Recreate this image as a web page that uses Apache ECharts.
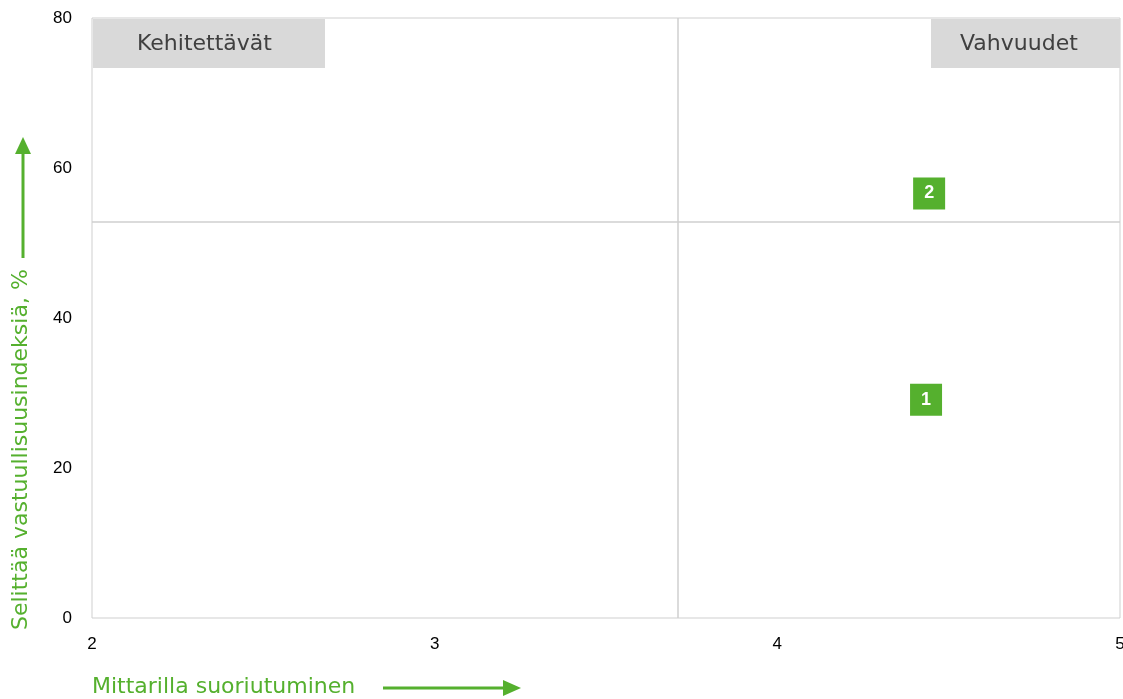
<!DOCTYPE html>
<html>
<head>
<meta charset="utf-8">
<script src="https://cdn.jsdelivr.net/npm/echarts@6/dist/echarts.min.js"></script>
<style>
  html, body { margin: 0; padding: 0; background: #fff; }
  #chart { width: 1123px; height: 699px; }
</style>
</head>
<body>
<div id="chart"></div>
<script>
// arvot luettu kuvasta
const pointLabels = ['1', '2'];
const xValues = [4.434, 4.443];
const yValues = [29.1, 56.6];
const xDivider = 3.712;
const yDivider = 52.9;
const xTicks = [2, 3, 4, 5];
const yTicks = [0, 20, 40, 60, 80];
const quadrantNames = ['Kehitettävät', 'Vahvuudet'];

const green = '#55b02e';
const titleFont = 'DejaVu Sans';

const chart = echarts.init(document.getElementById('chart'));

const option = {
    animation: false,
    grid: {
        left: 92, right: 3, top: 18, bottom: 81,
        outerBoundsMode: 'none',
        containLabel: false,
        show: true,
        borderColor: '#cfcfcf',
        borderWidth: 1
    },
    xAxis: {
        type: 'value',
        min: xTicks[0],
        max: xTicks[xTicks.length - 1],
        interval: 1,
        axisLine: { show: false },
        axisTick: { show: false },
        splitLine: { show: false },
        axisLabel: {
            color: '#000',
            fontSize: 17,
            fontFamily: 'Liberation Sans',
            margin: 18
        }
    },
    yAxis: {
        type: 'value',
        min: yTicks[0],
        max: yTicks[yTicks.length - 1],
        interval: 20,
        axisLine: { show: false },
        axisTick: { show: false },
        splitLine: { show: false },
        axisLabel: {
            color: '#000',
            fontSize: 17,
            fontFamily: 'Liberation Sans',
            margin: 20
        }
    },
    series: [
        {
            type: 'scatter',
            symbol: 'rect',
            symbolSize: 32,
            itemStyle: { color: green, opacity: 1 },
            data: xValues.map((x, i) => ({ value: [x, yValues[i]], name: pointLabels[i] })),
            label: {
                show: true,
                position: 'inside',
                formatter: p => p.name,
                color: '#fff',
                fontWeight: 'bold',
                fontSize: 18,
                fontFamily: 'Liberation Sans'
            },
            markLine: {
                silent: true,
                symbol: 'none',
                label: { show: false },
                lineStyle: { color: '#cfcfcf', type: 'solid', width: 1.5 },
                data: [{ xAxis: xDivider }, { yAxis: yDivider }]
            },
            z: 5
        }
    ],
    graphic: [
        // kvadranttien otsikot
        {
            type: 'rect', left: 93, top: 19,
            shape: { width: 232, height: 49 },
            style: { fill: '#d9d9d9' }
        },
        {
            type: 'text', left: 137, top: 33,
            style: { text: quadrantNames[0], fill: '#404040', font: '22px "' + titleFont + '"' }
        },
        {
            type: 'rect', left: 931, top: 19,
            shape: { width: 189, height: 49 },
            style: { fill: '#d9d9d9' }
        },
        {
            type: 'text', left: 960, top: 33,
            style: { text: quadrantNames[1], fill: '#404040', font: '22px "' + titleFont + '"' }
        },
        // y-akselin otsikko ja nuoli
        {
            type: 'text', x: 10, y: 630, rotation: Math.PI / 2,
            style: {
                text: 'Selittää vastuullisuusindeksiä, %',
                fill: green, font: '22px "' + titleFont + '"',
                align: 'left', verticalAlign: 'top'
            }
        },
        {
            type: 'line',
            shape: { x1: 23, y1: 258, x2: 23, y2: 150 },
            style: { stroke: green, lineWidth: 3 }
        },
        {
            type: 'polygon',
            shape: { points: [[15, 154], [31, 154], [23, 137]] },
            style: { fill: green }
        },
        // x-akselin otsikko ja nuoli
        {
            type: 'text', left: 92, top: 676,
            style: { text: 'Mittarilla suoriutuminen', fill: green, font: '22px "' + titleFont + '"' }
        },
        {
            type: 'line',
            shape: { x1: 383, y1: 688, x2: 506, y2: 688 },
            style: { stroke: green, lineWidth: 3 }
        },
        {
            type: 'polygon',
            shape: { points: [[503, 680], [503, 696], [521, 688]] },
            style: { fill: green }
        }
    ]
};

chart.setOption(option);
</script>
</body>
</html>
